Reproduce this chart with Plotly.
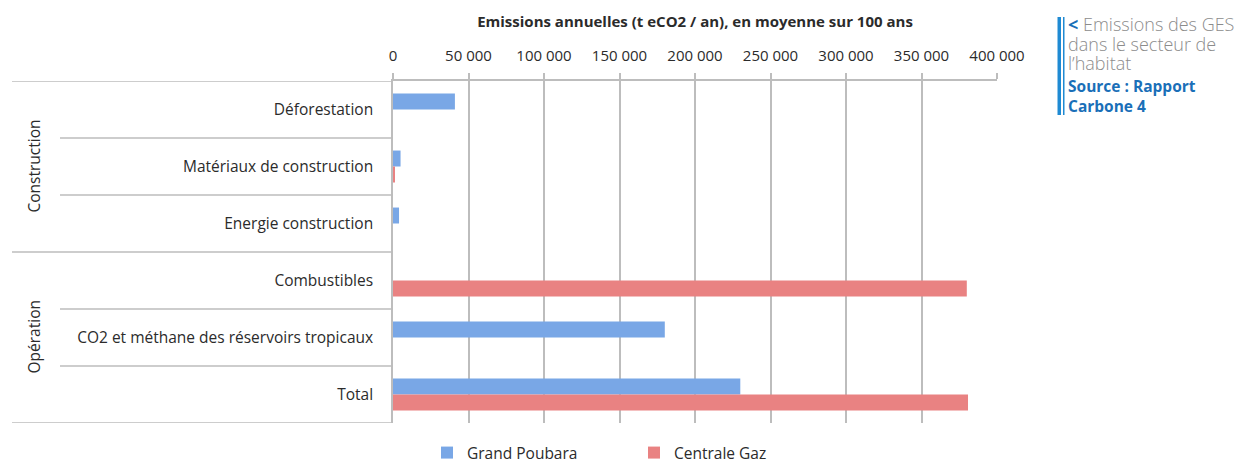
import plotly.graph_objects as go

# Emissions annuelles moyennes (t eCO2 / an) par poste
categories = [
    "Déforestation",
    "Matériaux de construction",
    "Energie construction",
    "Combustibles",
    "CO2 et méthane des réservoirs tropicaux",
    "Total",
]
groups = ["Construction", "Opération"]
group_members = [[0, 1, 2], [3, 4, 5]]
grand_poubara = [41000, 5000, 4000, 0, 180000, 230000]
centrale_gaz = [0, 800, 0, 380000, 0, 380800]
x_ticks = [0, 50000, 100000, 150000, 200000, 250000, 300000, 350000, 400000]
x_tick_labels = ["0", "50 000", "100 000", "150 000", "200 000", "250 000",
                 "300 000", "350 000", "400 000"]

W, H = 1248, 459
L, R, T, B = 393, 251, 81, 36
PW, PH = W - L - R, H - T - B


def px_x(px):
    return (px - L) / PW


def px_y(py):
    return (H - B - py) / PH


FONT = "Open Sans"
GRID = "#bdbdbd"
TXT = "#2b2b2b"

fig = go.Figure()
fig.add_trace(go.Bar(
    y=categories, x=grand_poubara, orientation="h", name="Grand Poubara",
    marker=dict(color="#79a7e6", line=dict(width=0)),
))
fig.add_trace(go.Bar(
    y=categories, x=centrale_gaz, orientation="h", name="Centrale Gaz",
    marker=dict(color="#e98282", line=dict(width=0)),
))

shapes = []
# row separators in the category label area
n = len(categories)
for i in range(n + 1):
    pos = i - 0.5
    major = i in (0, 3, n)
    shapes.append(dict(
        type="line", xref="paper", yref="y",
        x0=px_x(12 if major else 60), x1=0, y0=pos, y1=pos,
        line=dict(color=GRID, width=1.5),
    ))
# side marker next to the caption
shapes.append(dict(type="rect", xref="paper", yref="paper",
                   x0=px_x(1057.5), x1=px_x(1061), y0=px_y(17), y1=px_y(115),
                   fillcolor="#1f8ad3", line=dict(width=0)))
shapes.append(dict(type="rect", xref="paper", yref="paper",
                   x0=px_x(1063), x1=px_x(1064.5), y0=px_y(17), y1=px_y(115),
                   fillcolor="#1f8ad3", line=dict(width=0)))

annotations = []
for g, members in zip(groups, group_members):
    annotations.append(dict(
        text=g, xref="paper", yref="y", x=px_x(33), y=sum(members) / len(members),
        textangle=-90, showarrow=False, font=dict(family=FONT, size=15.5, color=TXT),
        xanchor="center", yanchor="middle",
    ))

caption = [
    ("<b><span style='color:#1a6fb8'>&lt;</span></b> Emissions des GES", 24, "#8c8c8c", 300),
    ("dans le secteur de", 43.5, "#8c8c8c", 300),
    ("l’habitat", 63, "#8c8c8c", 300),
    ("Source : Rapport", 86, "#1a6fb8", 700),
    ("Carbone 4", 105.5, "#1a6fb8", 700),
]
for text, py, col, wt in caption:
    annotations.append(dict(
        text=text, xref="paper", yref="paper", x=px_x(1066), y=px_y(py),
        xanchor="left", yanchor="middle", showarrow=False,
        font=dict(family=FONT, size=18 if wt == 300 else 15.5, color=col, weight=wt),
    ))

fig.update_layout(
    width=W, height=H,
    margin=dict(l=L, r=R, t=T, b=B, autoexpand=False),
    paper_bgcolor="white", plot_bgcolor="white",
    barmode="group", bargap=0.44, bargroupgap=0,
    font=dict(family=FONT, size=14, color=TXT),
    shapes=shapes, annotations=annotations,
    legend=dict(
        orientation="h", x=px_x(427), y=px_y(453), xanchor="left", yanchor="middle",
        font=dict(family=FONT, size=15.5, color=TXT), entrywidth=162,
        itemwidth=30, bgcolor="rgba(0,0,0,0)",
    ),
    xaxis=dict(
        side="top", range=[0, 400000], tickvals=x_ticks, ticktext=x_tick_labels,
        showgrid=True, gridcolor=GRID, gridwidth=1.5, zeroline=False,
        showline=True, linecolor=GRID, linewidth=1.5,
        ticks="outside", ticklen=6, tickcolor=GRID, tickwidth=1.5,
        ticklabelstandoff=6,
        tickfont=dict(family=FONT, size=15, color=TXT),
        title=dict(text="<b>Emissions annuelles (t eCO2 / an), en moyenne sur 100 ans</b>",
                   font=dict(family=FONT, size=15, color=TXT), standoff=14),
        fixedrange=True,
    ),
    yaxis=dict(
        categoryorder="array", categoryarray=categories, range=[n - 0.5, -0.5],
        showgrid=False, zeroline=False, showline=True, linecolor=GRID, linewidth=1.5,
        ticks="", ticklabelstandoff=15,
        tickfont=dict(family=FONT, size=15.5, color=TXT), fixedrange=True,
    ),
)

fig.write_html("out.html")
